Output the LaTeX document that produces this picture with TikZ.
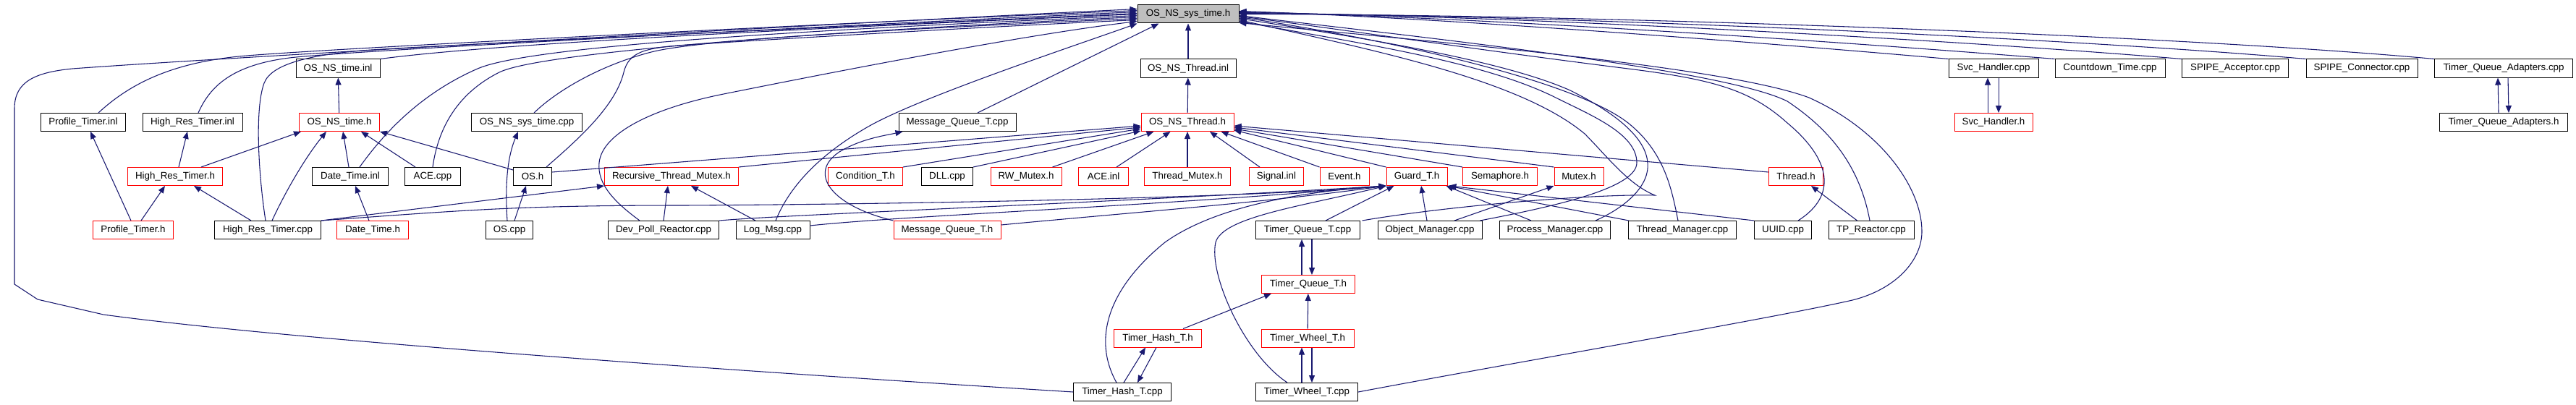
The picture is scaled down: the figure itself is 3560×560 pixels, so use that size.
\documentclass[tikz,border=0pt]{standalone}
\usepackage{fontspec}
\setmainfont{Liberation Sans}
\usetikzlibrary{arrows.meta,calc}
\definecolor{edgec}{RGB}{25,25,112}
\definecolor{topgray}{RGB}{191,191,191}
\begin{document}
\begin{tikzpicture}[x=0.75pt,y=-0.75pt,
  nb/.style={draw=black, line width=0.75pt, rectangle, inner sep=0pt,
    minimum height=18.75pt, minimum width=#1*0.75pt,
    font=\fontsize{10pt}{12pt}\selectfont, fill=white},
  nr/.style={nb=#1, draw=red},
  e/.style={draw=edgec, line width=0.8pt, -{Triangle[length=7.5pt,width=6pt]}},
  sm/.style={smooth, tension=0.55}]
\fill[white] (0,0) rectangle (3560,560);
\useasboundingbox (0,0) rectangle (3560,560);

% row 1
\node[nb=140, fill=topgray] (top) at (1642,19.5) {OS\_NS\_sys\_time.h};
% row 2
\node[nb=116] (tinl) at (467,94.5) {OS\_NS\_time.inl};
\node[nb=132] (thinl) at (1642,94.5) {OS\_NS\_Thread.inl};
\node[nb=124] (svccpp) at (2755,94.5) {Svc\_Handler.cpp};
\node[nb=152] (cdt) at (2916,94.5) {Countdown\_Time.cpp};
\node[nb=147] (spa) at (3089,94.5) {SPIPE\_Acceptor.cpp};
\node[nb=154] (spc) at (3264,94.5) {SPIPE\_Connector.cpp};
\node[nb=191] (tqacpp) at (3460,94.5) {Timer\_Queue\_Adapters.cpp};
% row 3
\node[nb=117] (ptinl) at (115,169) {Profile\_Timer.inl};
\node[nb=138] (hrtinl) at (266,169) {High\_Res\_Timer.inl};
\node[nr=111] (timeh) at (469,169) {OS\_NS\_time.h};
\node[nb=153] (systcpp) at (728,169) {OS\_NS\_sys\_time.cpp};
\node[nb=162] (mqtcpp) at (1323,169) {Message\_Queue\_T.cpp};
\node[nr=128] (thrh) at (1641,169) {OS\_NS\_Thread.h};
\node[nr=108] (svch) at (2755,169) {Svc\_Handler.h};
\node[nb=177] (tqah) at (3460,169) {Timer\_Queue\_Adapters.h};
% row 4
\node[nr=131] (hrth) at (242,244) {High\_Res\_Timer.h};
\node[nb=105] (dtinl) at (484,244) {Date\_Time.inl};
\node[nb=77] (acecpp) at (598,244) {ACE.cpp};
\node[nb=53] (osh) at (736,244) {OS.h};
\node[nr=185] (rtm) at (928,244) {Recursive\_Thread\_Mutex.h};
\node[nr=103] (condh) at (1196,244) {Condition\_T.h};
\node[nb=71] (dll) at (1309,244) {DLL.cpp};
\node[nr=98] (rwm) at (1418,244) {RW\_Mutex.h};
\node[nr=69] (aceinl) at (1525,244) {ACE.inl};
\node[nr=119] (tmx) at (1641,244) {Thread\_Mutex.h};
\node[nr=75] (sig) at (1764,244) {Signal.inl};
\node[nr=68] (evt) at (1858,244) {Event.h};
\node[nr=84] (guard) at (1958,244) {Guard\_T.h};
\node[nr=103] (sem) at (2073,244) {Semaphore.h};
\node[nr=68] (mtx) at (2182,244) {Mutex.h};
\node[nr=75] (thread) at (2482,244) {Thread.h};
% row 5
\node[nr=111] (pth) at (184,318) {Profile\_Timer.h};
\node[nb=147] (hrtcpp) at (370,318) {High\_Res\_Timer.cpp};
\node[nr=99] (dth) at (515,318) {Date\_Time.h};
\node[nb=65] (oscpp) at (704,318) {OS.cpp};
\node[nb=153] (dpr) at (917,318) {Dev\_Poll\_Reactor.cpp};
\node[nb=102] (logm) at (1068,318) {Log\_Msg.cpp};
\node[nr=148] (mqth) at (1309,318) {Message\_Queue\_T.h};
\node[nb=144] (tqtcpp) at (1807,318) {Timer\_Queue\_T.cpp};
\node[nb=144] (objm) at (1976,318) {Object\_Manager.cpp};
\node[nb=153] (procm) at (2149,318) {Process\_Manager.cpp};
\node[nb=149] (thrm) at (2325,318) {Thread\_Manager.cpp};
\node[nb=79] (uuid) at (2464,318) {UUID.cpp};
\node[nb=118] (tpr) at (2586,318) {TP\_Reactor.cpp};
% rows 6-8
\node[nr=129] (tqth) at (1808,393) {Timer\_Queue\_T.h};
\node[nr=121] (thh) at (1600,467.5) {Timer\_Hash\_T.h};
\node[nr=128] (twh) at (1807,467.5) {Timer\_Wheel\_T.h};
\node[nb=135] (thcpp) at (1551,542) {Timer\_Hash\_T.cpp};
\node[nb=141] (twcpp) at (1806,542) {Timer\_Wheel\_T.cpp};

% ---------- edges into OS_NS_sys_time.h, left side ----------
\draw[e] (thcpp.west) .. controls (1000,512) and (400,470) .. (143,435) -- (52,414) -- (20,393) -- (20,150)
  .. controls (20,112) and (50,100) .. (100,95) .. controls (300,80) and (1200,30) .. ($(top.west)+(0,-7)$);
\draw[e] ($(ptinl.north)+(21,0)$) .. controls (175,120) and (230,88) .. (330,78) .. controls (430,68) and (1200,30) .. ($(top.west)+(0,-5)$);
\draw[e] ($(hrtinl.north)+(8,0)$) .. controls (290,120) and (320,90) .. (400,80) .. controls (480,70) and (1200,33) .. ($(top.west)+(0,-3)$);
\draw[e] ($(hrtcpp.north)+(-3,0)$) .. controls (357,240) and (352,150) .. (365,115) .. controls (375,88) and (430,76) .. (500,70) .. controls (570,64) and (1200,35) .. ($(top.west)+(0,-1)$);
\draw[e] (tinl.north east) .. controls (700,58) and (1200,36) .. (top.west);
\draw[e] ($(dtinl.north)+(13,0)$) .. controls (530,185) and (580,130) .. (660,95) .. controls (740,60) and (1200,38) .. ($(top.west)+(0,2)$);
\draw[e] (acecpp.north) .. controls (605,180) and (630,130) .. (690,100) .. controls (750,70) and (1200,40) .. ($(top.west)+(0,4)$);
\draw[e] ($(systcpp.north)+(10,0)$) .. controls (770,125) and (830,90) .. (900,72) .. controls (970,54) and (1250,40) .. ($(top.west)+(0,6)$);
\draw[e] ($(osh.north)+(19,0)$) .. controls (790,200) and (850,150) .. (862,100) .. controls (869,72) and (890,66) .. (950,62) .. controls (1010,58) and (1300,40) .. ($(top.west)+(0,8)$);
\draw[e] ($(dpr.north)+(-33,0)$) .. controls (850,280) and (825,255) .. (828,225) .. controls (832,185) and (900,150) .. (1000,130) .. controls (1100,110) and (1400,50) .. ($(top.west)+(0,10)$);
\draw[e] ($(logm.north)+(4,0)$) .. controls (1090,260) and (1130,215) .. (1200,175) .. controls (1270,135) and (1480,65) .. (top.south west);
\draw[e] ($(mqtcpp.north)+(28,0)$) -- ($(top.south west)+(30,0)$);
\draw[e] (thinl) -- (top);

% ---------- edges into OS_NS_sys_time.h, right side ----------
\draw[e] (svccpp.north west) .. controls (2450,60) and (2000,25) .. ($(top.east)+(0,-4)$);
\draw[e] (cdt.north west) .. controls (2550,58) and (2050,24) .. ($(top.east)+(0,-3)$);
\draw[e] (spa.north west) .. controls (2700,55) and (2100,22) .. ($(top.east)+(0,-2)$);
\draw[e] (spc.north west) .. controls (2850,52) and (2150,21) .. ($(top.east)+(0,-1)$);
\draw[e] (tqacpp.north west) .. controls (3000,48) and (2200,20) .. (top.east);
\draw[e] ($(tqtcpp.north east)+(3,0)$) .. controls (2000,285) and (2200,268) .. (2287,270) .. controls (2250,255) and (2220,215) .. (2190,185) .. controls (2100,110) and (1900,70) .. ($(top.east)+(0,8)$);
\draw[e] ($(objm.north east)+(-3,0)$) .. controls (2150,285) and (2262,260) .. (2262,225) .. controls (2262,185) and (2200,160) .. (2150,135) .. controls (2050,85) and (1880,60) .. ($(top.east)+(0,10)$);
\draw[e] ($(procm.north east)+(-21,0)$) .. controls (2250,285) and (2280,255) .. (2277,225) .. controls (2274,185) and (2220,150) .. (2170,125) .. controls (2080,85) and (1900,55) .. ($(top.east)+(0,6)$);
\draw[e] ($(thrm.north)+(-6,0)$) .. controls (2310,260) and (2300,210) .. (2250,170) .. controls (2180,115) and (1950,60) .. ($(top.east)+(0,4)$);
\draw[e] ($(uuid.north)+(21,0)$) .. controls (2540,270) and (2530,220) .. (2470,170) .. controls (2420,125) and (2370,110) .. (2250,95) .. controls (2050,70) and (1850,40) .. ($(top.east)+(0,3)$);
\draw[e] ($(tpr.north)+(-2,0)$) .. controls (2570,230) and (2530,180) .. (2470,140) .. controls (2380,95) and (1950,50) .. ($(top.east)+(0,2)$);
\draw[e] (twcpp.east) .. controls (2100,500) and (2450,440) .. (2560,415) .. controls (2620,400) and (2656,360) .. (2656,320) .. controls (2656,260) and (2600,180) .. (2500,135) .. controls (2380,90) and (1950,55) .. ($(top.east)+(0,12)$);

% ---------- left cluster ----------
\draw[e] (timeh) -- (tinl);
\draw[e] ($(hrth.north)+(36,0)$) -- ($(timeh.south west)+(3,0)$);
\draw[e] ($(hrtcpp.north)+(6,0)$) .. controls (392,270) and (420,220) .. ($(timeh.south)+(-18,0)$);
\draw[e] ($(dtinl.north)+(-2,0)$) -- ($(timeh.south)+(5,0)$);
\draw[e] ($(acecpp.north)+(-24,0)$) -- ($(timeh.south)+(30,0)$);
\draw[e] ($(osh.north west)+(0,4)$) -- (timeh.south east);
\draw[e] ($(hrth.north)+(5,0)$) -- ($(hrtinl.south)+(-7,0)$);
\draw[e] ($(pth.north)+(-3,0)$) -- ($(ptinl.south)+(10,0)$);
\draw[e] ($(pth.north)+(11,0)$) -- ($(hrth.south)+(-14,0)$);
\draw[e] ($(hrtcpp.north)+(-23,0)$) -- ($(hrth.south)+(26,0)$);
\draw[e] ($(dth.north)+(-5,0)$) -- ($(dtinl.south)+(7,0)$);
\draw[e] ($(oscpp.north)+(7,0)$) -- ($(osh.south)+(-9,0)$);
\draw[e] ($(oscpp.north)+(-3,0)$) .. controls (698,262) and (700,220) .. ($(systcpp.south)+(-12,0)$);

% ---------- Recursive_Thread_Mutex.h / Guard_T.h ----------
\draw[e] (hrtcpp.north east) -- (rtm.south west);
\draw[e] (dpr.north) -- ($(rtm.south)+(-5,0)$);
\draw[e] ($(logm.north)+(-24,0)$) -- ($(rtm.south)+(27,0)$);
\draw[e] (hrtcpp.north east) .. controls (650,290) and (720,284) .. (946,284) .. controls (1300,282) and (1750,272) .. (guard.south west);
\draw[e] (dpr.north east) .. controls (1100,296) and (1500,282) .. (guard.south west);
\draw[e] ($(logm.north east)+(0,7)$) .. controls (1250,298) and (1600,285) .. (guard.south west);
\draw[e] ($(mqth.north east)+(0,6)$) .. controls (1550,295) and (1750,280) .. (guard.south west);
\draw[e] (mqth.north west) .. controls (1150,285) and (1115,240) .. (1160,210) .. controls (1190,192) and (1220,188) .. ($(mqtcpp.south west)+(6,0)$);
\draw[e] ($(thcpp.north)+(-8,0)$) .. controls (1510,470) and (1530,400) .. (1610,335) .. controls (1680,285) and (1800,265) .. (guard.south west);
\draw[e] ($(twcpp.north west)+(44,0)$) .. controls (1720,490) and (1670,380) .. (1680,335) .. controls (1690,300) and (1800,285) .. (guard.south west);
\draw[e] ($(tqtcpp.north)+(25,0)$) -- ($(guard.south west)+(11,0)$);
\draw[e] ($(objm.north)+(-4,0)$) -- ($(guard.south)+(6,0)$);
\draw[e] ($(objm.north)+(34,0)$) -- (mtx.south west);
\draw[e] ($(procm.north)+(-33,0)$) -- ($(guard.south east)+(-2,0)$);
\draw[e] ($(thrm.north west)+(1,0)$) -- (guard.south east);
\draw[e] (uuid.north west) -- ($(guard.south east)+(2,0)$);
\draw[e] ($(tpr.north west)+(40,0)$) -- ($(thread.south)+(21,0)$);

% ---------- OS_NS_Thread.h ----------
\draw[e] (thrh) -- (thinl);
\draw[e] ($(osh.east)+(0,-6)$) -- ($(thrh.west)+(0,5)$);
\draw[e] (rtm.north east) -- ($(thrh.west)+(0,7)$);
\draw[e] (condh.north east) -- ($(thrh.west)+(0,9)$);
\draw[e] (dll.north east) -- ($(thrh.south west)+(0,-1)$);
\draw[e] ($(rwm.north east)+(-13,0)$) -- ($(thrh.south west)+(18,0)$);
\draw[e] ($(aceinl.north east)+(-17,0)$) -- ($(thrh.south west)+(41,0)$);
\draw[e] (tmx) -- (thrh);
\draw[e] ($(sig.north)+(-23,0)$) -- ($(thrh.south)+(31,0)$);
\draw[e] (evt.north west) -- ($(thrh.south east)+(-18,0)$);
\draw[e] (guard.north west) -- ($(thrh.south east)+(0,-2)$);
\draw[e] (sem.north west) -- ($(thrh.east)+(0,9)$);
\draw[e] (mtx.north west) -- ($(thrh.east)+(0,7)$);
\draw[e] ($(thread.north west)+(0,7)$) -- ($(thrh.east)+(0,5)$);

% ---------- pairs and timers ----------
\draw[e] ($(tqth.north)+(-9,0)$) -- ($(tqtcpp.south)+(-8,0)$);
\draw[e] ($(tqtcpp.south)+(6,0)$) -- ($(tqth.north)+(5,0)$);
\draw[e] (twh) -- (tqth);
\draw[e] ($(twcpp.north)+(-7,0)$) -- ($(twh.south)+(-8,0)$);
\draw[e] ($(twh.south)+(6,0)$) -- ($(twcpp.north)+(7,0)$);
\draw[e] ($(thcpp.north)+(2,0)$) -- ($(thh.south)+(-17,0)$);
\draw[e] ($(thh.south)+(-2,0)$) -- ($(thcpp.north)+(21,0)$);
\draw[e] ($(thh.north)+(35,0)$) -- ($(tqth.south west)+(14,0)$);
\draw[e] ($(svch.north)+(-8,0)$) -- ($(svccpp.south)+(-8,0)$);
\draw[e] ($(svccpp.south)+(7,0)$) -- ($(svch.north)+(7,0)$);
\draw[e] ($(tqah.north)+(-7,0)$) -- ($(tqacpp.south)+(-8,0)$);
\draw[e] ($(tqacpp.south)+(6,0)$) -- ($(tqah.north)+(7,0)$);
\end{tikzpicture}
\end{document}
